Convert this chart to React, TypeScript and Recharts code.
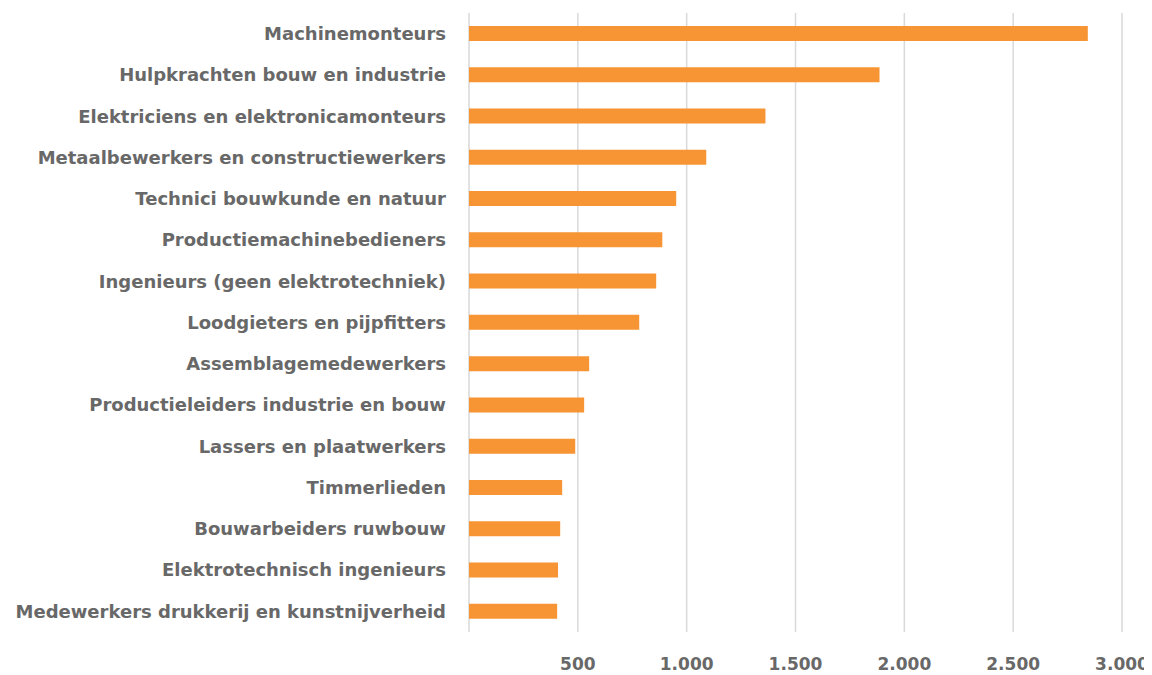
import React from 'react';
import { BarChart, Bar, XAxis, YAxis, CartesianGrid } from 'recharts';

const categories = [
  'Machinemonteurs',
  'Hulpkrachten bouw en industrie',
  'Elektriciens en elektronicamonteurs',
  'Metaalbewerkers en constructiewerkers',
  'Technici bouwkunde en natuur',
  'Productiemachinebedieners',
  'Ingenieurs (geen elektrotechniek)',
  'Loodgieters en pijpfitters',
  'Assemblagemedewerkers',
  'Productieleiders industrie en bouw',
  'Lassers en plaatwerkers',
  'Timmerlieden',
  'Bouwarbeiders ruwbouw',
  'Elektrotechnisch ingenieurs',
  'Medewerkers drukkerij en kunstnijverheid',
];

const values = [2843, 1886, 1362, 1090, 952, 888, 860, 782, 552, 529, 488, 428, 419, 409, 405];

const xTicks = [0, 500, 1000, 1500, 2000, 2500, 3000];

const data = categories.map((name, i) => ({ name, value: values[i] }));

const fmt = (v: number) => (v === 0 ? '' : v.toLocaleString('nl-NL'));

export default function App() {
  return (
    <div style={{ width: 1144, height: 667 }}>
      <BarChart
        width={1144}
        height={667}
        data={data}
        layout="vertical"
        margin={{ top: 5, right: 30, bottom: 13, left: 0 }}
        barCategoryGap={0}
      >
        <CartesianGrid horizontal={false} stroke="#d9d9d9" strokeWidth={1.5} />
        <XAxis
          type="number"
          domain={[0, 3000]}
          ticks={xTicks}
          tickFormatter={fmt}
          axisLine={false}
          tickLine={false}
          tickMargin={20}
          interval={0}
          tick={{ fill: '#686868', fontSize: 17, fontFamily: 'DejaVu Sans', fontWeight: 600 }}
        />
        <YAxis
          type="category"
          dataKey="name"
          width={461}
          axisLine={false}
          tickLine={false}
          tickMargin={17}
          interval={0}
          tick={{ fill: '#686868', fontSize: 18, fontFamily: 'DejaVu Sans', fontWeight: 600 }}
        />
        <Bar dataKey="value" fill="#f79433" barSize={15} isAnimationActive={false} />
      </BarChart>
    </div>
  );
}
